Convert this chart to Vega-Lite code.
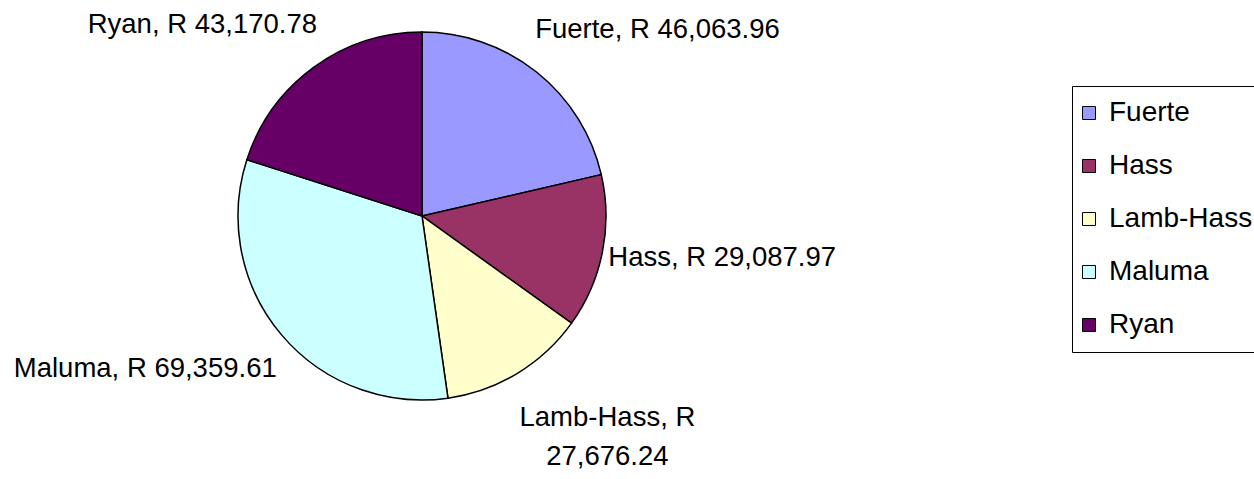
{
  "$schema": "https://vega.github.io/schema/vega-lite/v6.json",
  "width": 844,
  "height": 432,
  "autosize": "none",
  "padding": {"left": 0, "top": 0, "right": 410, "bottom": 47},
  "background": "white",
  "config": {"view": {"stroke": null}, "font": "Liberation Sans"},
  "data": {"values": [
    {"variety": "Fuerte", "value": 46063.96, "label": "Fuerte, R 46,063.96"},
    {"variety": "Hass", "value": 29087.97, "label": "Hass, R 29,087.97"},
    {"variety": "Lamb-Hass", "value": 27676.24, "label": "Lamb-Hass, R\n27,676.24"},
    {"variety": "Maluma", "value": 69359.61, "label": "Maluma, R 69,359.61"},
    {"variety": "Ryan", "value": 43170.78, "label": "Ryan, R 43,170.78"}
  ]},
  "encoding": {
    "theta": {"field": "value", "type": "quantitative", "stack": true}
  },
  "layer": [
    {
      "mark": {"type": "arc", "radius": 184, "stroke": "black", "strokeWidth": 1.5},
      "encoding": {
        "color": {
          "field": "variety", "type": "nominal",
          "scale": {"domain": ["Fuerte", "Hass", "Lamb-Hass", "Maluma", "Ryan"], "range": ["#9999FF", "#993366", "#FFFFCC", "#CCFFFF", "#660066"]},
          "legend": {
            "orient": "none", "legendX": 1072, "legendY": 86, "title": null,
            "symbolType": "square", "symbolSize": 169, "symbolStrokeColor": "black", "symbolStrokeWidth": 1,
            "symbolOffset": -10,
            "labelFontSize": 28, "labelColor": "black", "labelFont": "Liberation Sans", "labelOffset": 6,
            "rowPadding": 25, "padding": 13, "strokeColor": "black", "fillColor": "white", "labelLimit": 400
          }
        }
      }
    },
    {
      "mark": {"type": "text", "radius": 238, "dx": -35, "align": "left", "baseline": "middle", "fontSize": 27.5, "color": "black"},
      "encoding": {"detail": {"field": "variety"}, "text": {"condition": {"test": "datum.variety === 'Fuerte'", "field": "label"}, "value": ""}}
    },
    {
      "mark": {"type": "text", "radius": 190, "dy": 5, "align": "left", "baseline": "middle", "fontSize": 27.5, "color": "black"},
      "encoding": {"detail": {"field": "variety"}, "text": {"condition": {"test": "datum.variety === 'Hass'", "field": "label"}, "value": ""}}
    },
    {
      "mark": {"type": "text", "radius": 236, "dx": 63, "align": "center", "baseline": "middle", "lineBreak": "\n", "lineHeight": 39, "fontSize": 27.5, "color": "black"},
      "encoding": {"detail": {"field": "variety"}, "text": {"condition": {"test": "datum.variety === 'Lamb-Hass'", "field": "label"}, "value": ""}}
    },
    {
      "mark": {"type": "text", "radius": 190, "dy": 31, "align": "right", "baseline": "middle", "fontSize": 27.5, "color": "black"},
      "encoding": {"detail": {"field": "variety"}, "text": {"condition": {"test": "datum.variety === 'Maluma'", "field": "label"}, "value": ""}}
    },
    {
      "mark": {"type": "text", "radius": 236, "dx": 34, "align": "right", "baseline": "middle", "fontSize": 27.5, "color": "black"},
      "encoding": {"detail": {"field": "variety"}, "text": {"condition": {"test": "datum.variety === 'Ryan'", "field": "label"}, "value": ""}}
    }
  ]
}
